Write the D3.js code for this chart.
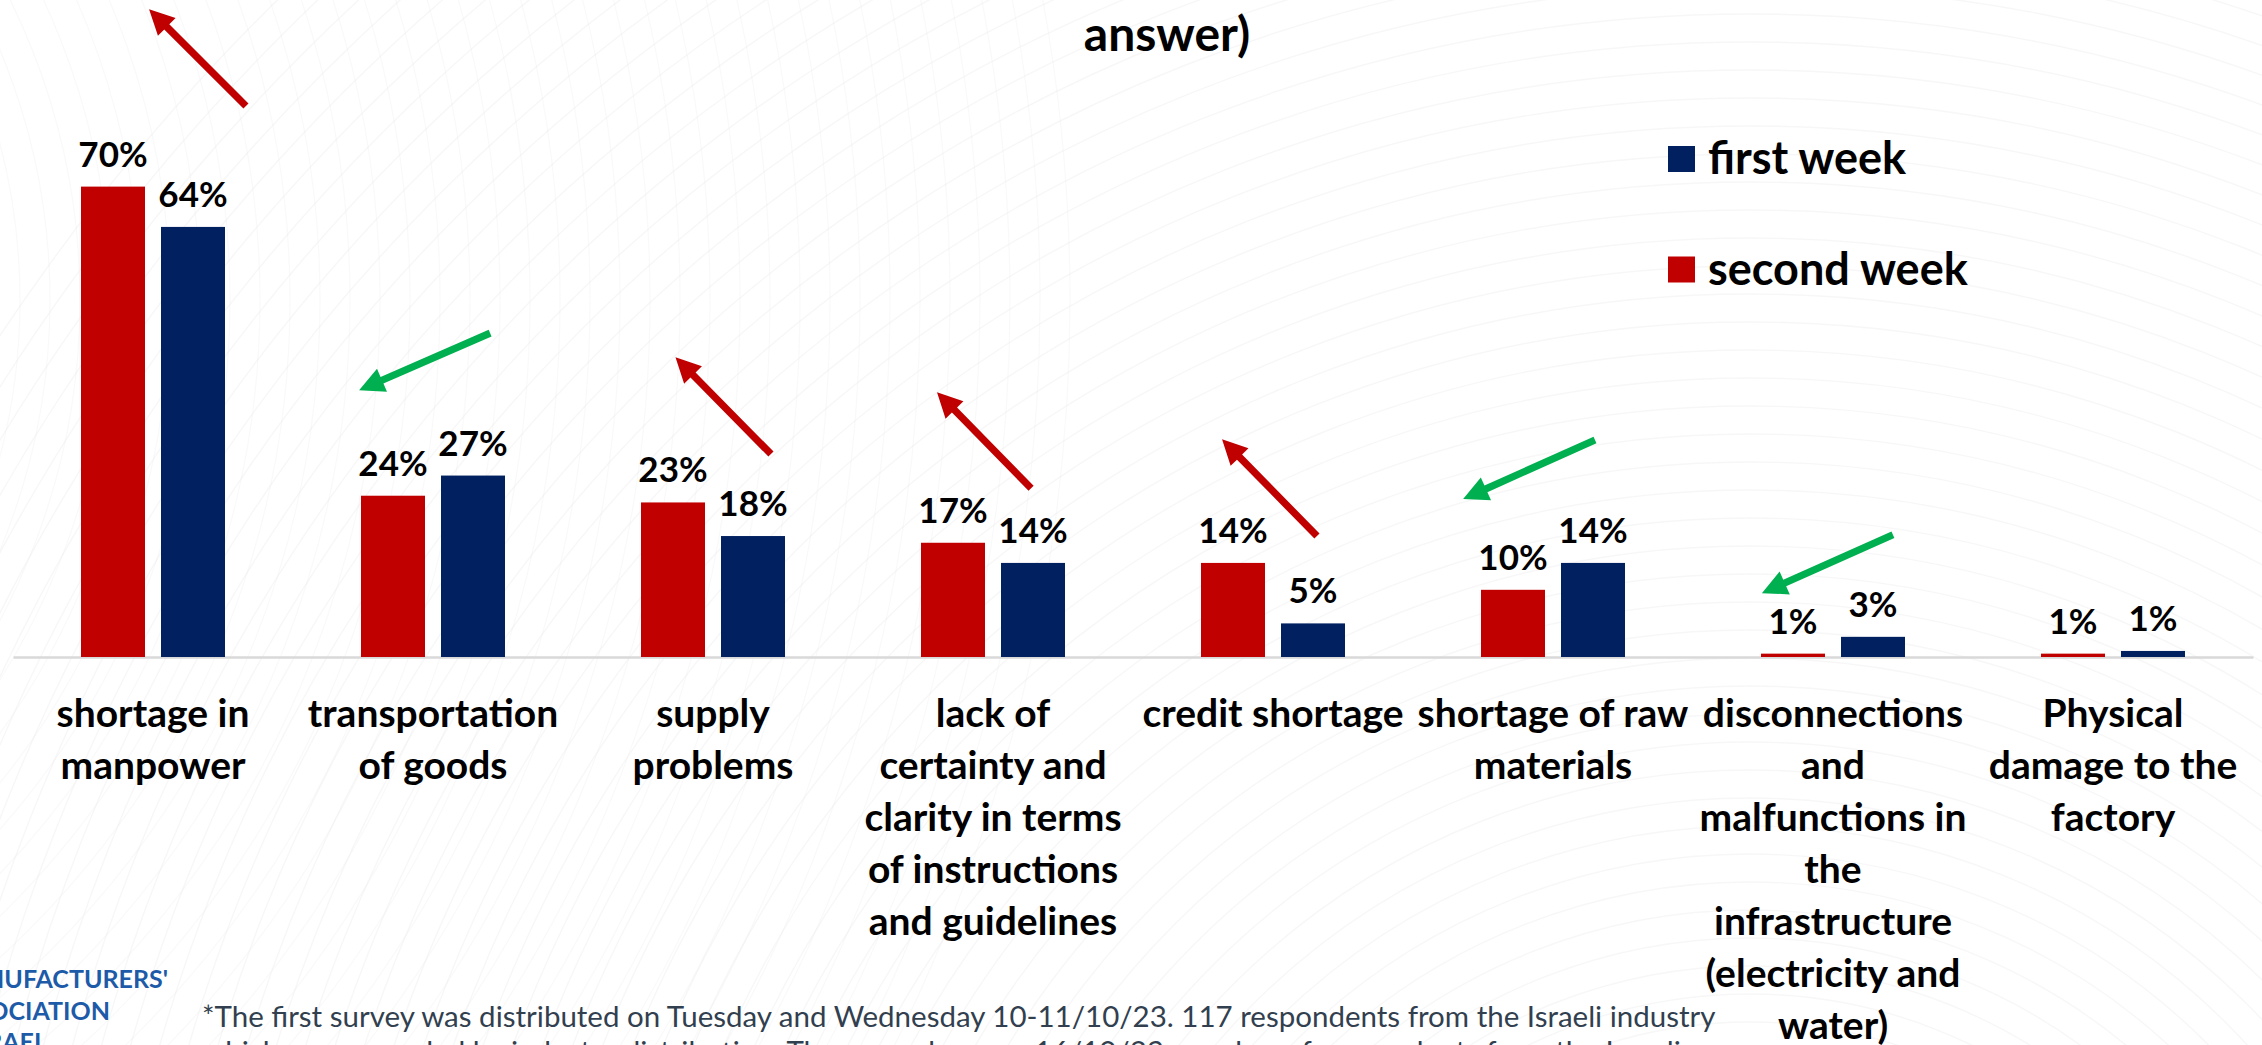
<!DOCTYPE html>
<html>
<head>
<meta charset="utf-8">
<script src="https://cdn.jsdelivr.net/npm/d3@7"></script>
<style>
  html, body { margin: 0; padding: 0; background: #ffffff; overflow: hidden; }
  svg { display: block; }
  text { font-family: Lato, "Open Sans", sans-serif; }
</style>
</head>
<body>
<svg id="chart" width="2262" height="1045"></svg>
<script>
// ---------- data ----------
const categories = [
  "shortage in\nmanpower",
  "transportation\nof goods",
  "supply\nproblems",
  "lack of\ncertainty and\nclarity in terms\nof instructions\nand guidelines",
  "credit shortage",
  "shortage of raw\nmaterials",
  "disconnections\nand\nmalfunctions in\nthe\ninfrastructure\n(electricity and\nwater)",
  "Physical\ndamage to the\nfactory"
];
const seriesNames = ["second week", "first week"];
const secondWeek = [70, 24, 23, 17, 14, 10, 0.5, 0.5];
const firstWeek  = [64, 27, 18, 14, 5, 14, 3, 0.9];
const legendOrder = ["first week", "second week"];
const titleText = "answer)";
const footnoteLines = [
  "*The first survey was distributed on Tuesday and Wednesday 10-11/10/23. 117 respondents from the Israeli industry",
  "which were sampled by industry distribution. The second survey 16/10/23, number of respondents from the Israeli"
];
const logoLines = ["MANUFACTURERS'", "ASSOCIATION", "OF ISRAEL"];

// change arrows (category index, direction, tail / tip as [band-offset, value %])
const arrowCategory = [0, 1, 2, 3, 4, 5, 6];
const arrowDirection = ["up", "down", "up", "up", "up", "down", "down"];
const arrowTail = [[0.332, 82.0], [0.204, 48.2], [0.207, 30.2], [0.136, 25.1], [0.157, 18.0], [0.150, 32.3], [0.214, 18.2]];
const arrowTip  = [[-0.014, 96.4], [-0.264, 39.7], [-0.134, 44.6], [-0.200, 39.4], [-0.182, 32.4], [-0.321, 23.5], [-0.254, 9.5]];

// ---------- setup ----------
const W = 2262, H = 1045;
const svg = d3.select("#chart");
const colors = { "second week": "#C00000", "first week": "#002060" };
const arrowColors = { up: "#C00000", down: "#00B050" };

const rows = categories.map((c, i) => ({ cat: c, values: { "second week": secondWeek[i], "first week": firstWeek[i] } }));

// faint background texture
const bg = svg.append("g").attr("fill", "none");
d3.range(0, 60).forEach(k => {
  bg.append("circle").attr("cx", 1750).attr("cy", 1500).attr("r", 450 + k * 28)
    .attr("stroke", "#e9e9e9").attr("stroke-width", 1.4).attr("opacity", 0.35);
});
d3.range(0, 40).forEach(k => {
  bg.append("circle").attr("cx", -600).attr("cy", 300).attr("r", 500 + k * 30)
    .attr("stroke", "#ececec").attr("stroke-width", 1.2).attr("opacity", 0.3);
});

// scales
const x0 = d3.scaleBand().domain(categories).range([13, 2253]).paddingInner(0.4857).paddingOuter(0.24285);
const x1 = d3.scaleBand().domain(seriesNames).range([0, x0.bandwidth()]).paddingInner(0.2);
const y = d3.scaleLinear().domain([0, 100]).range([657, -15]);
const step = x0.step();
const cx = c => x0(c) + x0.bandwidth() / 2;

// axis baseline
const axis = svg.append("g").attr("transform", `translate(0,${y(0)})`)
  .call(d3.axisBottom(x0).tickSize(0).tickFormat(""));
axis.select(".domain").attr("stroke", "#d9d9d9").attr("stroke-width", 2.5);
axis.selectAll(".tick").remove();

// bars
const groups = svg.append("g").selectAll("g").data(rows).join("g")
  .attr("transform", d => `translate(${x0(d.cat)},0)`);
groups.selectAll("rect").data(d => seriesNames.map(s => ({ s, v: d.values[s] }))).join("rect")
  .attr("x", d => x1(d.s)).attr("width", x1.bandwidth())
  .attr("y", d => y(d.v)).attr("height", d => y(0) - y(d.v))
  .attr("fill", d => colors[d.s]);
groups.selectAll("text.val").data(d => seriesNames.map(s => ({ s, v: d.values[s] }))).join("text")
  .attr("class", "val")
  .attr("x", d => x1(d.s) + x1.bandwidth() / 2)
  .attr("y", d => y(d.v) - 20)
  .attr("text-anchor", "middle")
  .attr("font-size", 35).attr("font-weight", 700).attr("fill", "#000")
  .text(d => Math.round(d.v) + "%");

// category labels
const lab = svg.append("g").selectAll("text").data(categories).join("text")
  .attr("text-anchor", "middle").attr("font-size", 39).attr("font-weight", 700).attr("fill", "#000")
  .attr("transform", d => `translate(${cx(d)},727)`);
lab.selectAll("tspan").data(d => d.split("\n")).join("tspan")
  .attr("x", 0).attr("y", (d, i) => i * 52).text(d => d);

// arrows
const arrowG = svg.append("g");
arrowCategory.forEach((ci, k) => {
  const c = categories[ci];
  const tx = cx(c) + arrowTail[k][0] * step, ty = y(arrowTail[k][1]);
  const hx = cx(c) + arrowTip[k][0] * step, hy = y(arrowTip[k][1]);
  const dx = hx - tx, dy = hy - ty, len = Math.hypot(dx, dy);
  const ux = dx / len, uy = dy / len, px = -uy, py = ux;
  const headLen = 25, headHalf = 12.5, shaftHalf = 3.6;
  const bx = hx - ux * headLen, by = hy - uy * headLen;
  const pts = [
    [tx + px * shaftHalf, ty + py * shaftHalf],
    [bx + px * shaftHalf, by + py * shaftHalf],
    [bx + px * headHalf, by + py * headHalf],
    [hx, hy],
    [bx - px * headHalf, by - py * headHalf],
    [bx - px * shaftHalf, by - py * shaftHalf],
    [tx - px * shaftHalf, ty - py * shaftHalf]
  ];
  arrowG.append("path").attr("d", d3.line()(pts) + "Z").attr("fill", arrowColors[arrowDirection[k]]);
});

// title (visible remainder)
svg.append("text").attr("x", 1167).attr("y", 51).attr("text-anchor", "middle")
  .attr("font-size", 48).attr("font-weight", 700).attr("fill", "#000").text(titleText);

// legend
const leg = svg.append("g").selectAll("g").data(legendOrder).join("g")
  .attr("transform", (d, i) => `translate(1668,${146 + i * 110.5})`);
leg.append("rect").attr("width", 27).attr("height", 26).attr("fill", d => colors[d]);
leg.append("text").attr("x", 40).attr("y", 28).attr("font-size", 45).attr("font-weight", 700)
  .attr("fill", "#000").text(d => d);

// logo (cut at the left edge)
const logoEnds = [168, 110, 47];
svg.append("g").selectAll("text").data(logoLines).join("text")
  .attr("x", (d, i) => logoEnds[i]).attr("y", (d, i) => 988 + i * 31.5)
  .attr("text-anchor", "end").attr("font-size", 25).attr("font-weight", 700)
  .attr("fill", "#1d5ba8").text(d => d);

// footnote
svg.append("g").selectAll("text").data(footnoteLines).join("text")
  .attr("x", 202).attr("y", (d, i) => 1027 + i * 35)
  .attr("font-size", 29.5).attr("fill", "#323f4f").text(d => d);
</script>
</body>
</html>
